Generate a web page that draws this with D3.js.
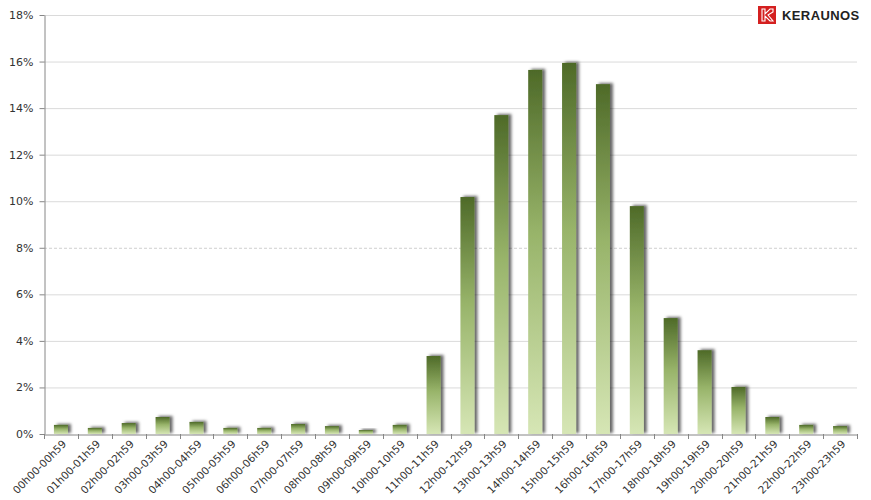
<!DOCTYPE html>
<html><head><meta charset="utf-8">
<script src="https://cdn.jsdelivr.net/npm/d3@7"></script>
<style>body{margin:0;background:#fff}svg{display:block}</style>
</head><body>
<script>
const categories = ["00h00-00h59","01h00-01h59","02h00-02h59","03h00-03h59","04h00-04h59","05h00-05h59","06h00-06h59","07h00-07h59","08h00-08h59","09h00-09h59","10h00-10h59","11h00-11h59","12h00-12h59","13h00-13h59","14h00-14h59","15h00-15h59","16h00-16h59","17h00-17h59","18h00-18h59","19h00-19h59","20h00-20h59","21h00-21h59","22h00-22h59","23h00-23h59"];
const values = [0.39,0.26,0.47,0.73,0.52,0.26,0.26,0.43,0.34,0.17,0.39,3.35,10.18,13.7,15.64,15.94,15.03,9.79,4.98,3.6,2.02,0.73,0.39,0.34];
const yTicks = [0,2,4,6,8,10,12,14,16,18];

const W=871,H=500, mL=44, mR=857, mT=15, mB=434;
const svg=d3.select("body").append("svg").attr("width",W).attr("height",H);
const defs=svg.append("defs");
const g=defs.append("linearGradient").attr("id","bg").attr("x1",0).attr("y1",0).attr("x2",0).attr("y2",1);
g.append("stop").attr("offset","0%").attr("stop-color","#4e6a28");
g.append("stop").attr("offset","45%").attr("stop-color","#98b46a");
g.append("stop").attr("offset","100%").attr("stop-color","#d6e6b5");
const f=defs.append("filter").attr("id","sh").attr("x","-50%").attr("y","-50%").attr("width","200%").attr("height","200%");
f.append("feDropShadow").attr("dx",3).attr("dy",-1).attr("stdDeviation",1.7).attr("flood-color","#000").attr("flood-opacity",0.6);

const x=d3.scaleBand().domain(categories).range([mL,mR]);
const y=d3.scaleLinear().domain([0,18]).range([mB,mT]);

// gridlines
svg.append("g").selectAll("line").data(yTicks.filter(t=>t>0)).join("line")
  .attr("x1",mL).attr("x2",mR).attr("y1",d=>y(d)+0.5).attr("y2",d=>y(d)+0.5)
  .attr("stroke",d=>d===8?"#cfcfcf":"#dadada").attr("stroke-dasharray",d=>d===8?"3,2":null);

// bars
const bw=14;
svg.append("g").selectAll("rect").data(values).join("rect")
  .attr("x",(d,i)=>x(categories[i])+x.bandwidth()/2-bw/2)
  .attr("y",d=>y(d)).attr("width",bw).attr("height",d=>y(0)-y(d))
  .attr("fill","url(#bg)").attr("filter","url(#sh)");

// y axis
const ya=svg.append("g").attr("transform",`translate(${mL+0.5},0)`)
  .call(d3.axisLeft(y).tickValues(yTicks).tickFormat(d=>d+"%").tickSize(5).tickSizeOuter(0));
ya.select(".domain").attr("stroke","#868686");
ya.selectAll(".tick line").attr("stroke","#868686");
ya.selectAll("text").attr("font-family","Verdana, 'DejaVu Sans', sans-serif").attr("font-size",11).attr("fill","#333").attr("x",-11);

// x axis
const xa=svg.append("g").attr("transform",`translate(0,${mB+0.5})`)
  .call(d3.axisBottom(x).tickSize(0).tickSizeOuter(0));
xa.select(".domain").attr("stroke","#868686");
xa.selectAll(".tick line").remove();
svg.append("g").selectAll("line").data(d3.range(categories.length+1)).join("line")
  .attr("x1",i=>Math.round(mL+i*x.step())+0.5).attr("x2",i=>Math.round(mL+i*x.step())+0.5)
  .attr("y1",mB).attr("y2",mB+5).attr("stroke","#868686");
xa.selectAll("text").attr("font-family","Verdana, 'DejaVu Sans', sans-serif").attr("font-size",10.5).attr("fill","#333")
  .attr("text-anchor","end").attr("dy",0).attr("transform","translate(4,8) rotate(-45)");

// logo
const lg=svg.append("g");
lg.append("rect").attr("x",752).attr("y",4).attr("width",110).attr("height",22).attr("fill","#fff");
lg.append("rect").attr("x",758).attr("y",6).attr("width",18).attr("height",18).attr("fill","#d42020");
lg.append("path").attr("d","M762,9 L765,9 L765,14 L770,9 L773,9 L773,12 L768,15 L773,21 L770,21 L765,16 L765,21 L762,21 Z")
  .attr("fill","none").attr("stroke","#fff").attr("stroke-width",1.1);
lg.append("text").attr("x",782).attr("y",20).text("KERAUNOS")
  .attr("font-family","'Liberation Sans', Arial, sans-serif").attr("font-size",13).attr("font-weight","bold").attr("fill","#222").attr("letter-spacing",0.4);
</script>
</body></html>
